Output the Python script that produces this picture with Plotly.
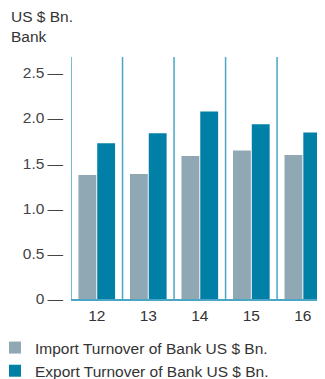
import plotly.graph_objects as go

years = ["12", "13", "14", "15", "16"]
import_vals = [1.37, 1.38, 1.58, 1.64, 1.59]
export_vals = [1.72, 1.83, 2.07, 1.93, 1.84]
y_ticks = [0, 0.5, 1.0, 1.5, 2.0, 2.5]
y_tick_text = ["0", "0.5", "1.0", "1.5", "2.0", "2.5"]

# page body has an 8px default margin, so the figure is drawn at (8, 8)
OFF = 8
W, H = 325 - OFF, 379 - OFF
ml, mr, mt, mb = 71 - OFF, 0, 57 - OFF, 80
pw, ph = W - ml - mr, H - mt - mb
bottom = H - mb  # figure px of plot bottom

font = "Liberation Sans, Arial, sans-serif"
import_color = "#8fa8b4"
export_color = "#0080a6"
line_color = "#4aa6c4"
text_color = "#333333"

fig = go.Figure()
fig.add_trace(go.Bar(x=years, y=import_vals, name="Import Turnover of Bank US $ Bn.",
                     marker=dict(color=import_color, line=dict(width=0))))
fig.add_trace(go.Bar(x=years, y=export_vals, name="Export Turnover of Bank US $ Bn.",
                     marker=dict(color=export_color, line=dict(width=0))))

shapes = []
for i in range(len(years)):
    shapes.append(dict(type="line", xref="x", yref="paper", x0=i - 0.5, x1=i - 0.5,
                       y0=0, y1=1, line=dict(color=line_color, width=1.5)))

fig.update_layout(
    width=W, height=H,
    margin=dict(l=ml, r=mr, t=mt, b=mb, autoexpand=False),
    paper_bgcolor="white", plot_bgcolor="white",
    font=dict(family=font, size=15.5, color=text_color),
    barmode="group", bargap=0.27, bargroupgap=0.05,
    showlegend=True,
    legend=dict(x=(-13 - ml) / pw, xanchor="left", y=(bottom - 323) / ph, yanchor="top",
                font=dict(size=15.5, color=text_color), bgcolor="rgba(0,0,0,0)",
                itemwidth=30, tracegroupgap=0),
    shapes=shapes,
    annotations=[dict(text="US $ Bn.<br>Bank", xref="paper", yref="paper",
                      x=(1 - ml) / pw, y=(bottom + 2) / ph, xanchor="left", yanchor="top",
                      showarrow=False, align="left",
                      font=dict(size=15.5, color=text_color))],
    xaxis=dict(type="category", range=[-0.5, 4.43], showgrid=False, zeroline=False,
               showline=True, linecolor=line_color, linewidth=1.5, automargin=False,
               ticks="", ticklabelstandoff=2,
               tickfont=dict(size=15.5, color=text_color), fixedrange=True),
    yaxis=dict(range=[0, 2.673], tickvals=y_ticks, ticktext=[t + "\u2009—" for t in y_tick_text],
               showgrid=False, zeroline=False, showline=False, ticks="", automargin=False,
               ticklabelstandoff=7, tickfont=dict(size=15.5, color="#444444")),
)

fig.write_html("out.html")
